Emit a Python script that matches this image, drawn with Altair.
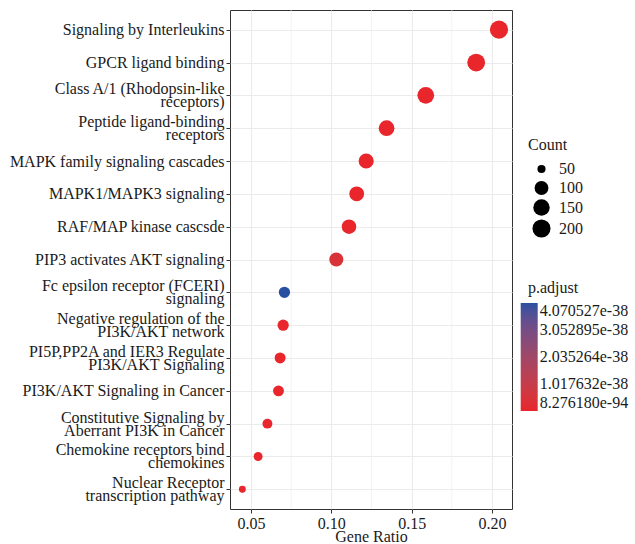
import altair as alt
import pandas as pd

pathways = [
    "Signaling by Interleukins",
    "GPCR ligand binding",
    "Class A/1 (Rhodopsin-like\nreceptors)",
    "Peptide ligand-binding\nreceptors",
    "MAPK family signaling cascades",
    "MAPK1/MAPK3 signaling",
    "RAF/MAP kinase cascsde",
    "PIP3 activates AKT signaling",
    "Fc epsilon receptor (FCERI)\nsignaling",
    "Negative regulation of the\nPI3K/AKT network",
    "PI5P,PP2A and IER3 Regulate\nPI3K/AKT Signaling",
    "PI3K/AKT Signaling in Cancer",
    "Constitutive Signaling by\nAberrant PI3K in Cancer",
    "Chemokine receptors bind\nchemokines",
    "Nuclear Receptor\ntranscription pathway",
]
gene_ratio = [0.2044, 0.1902, 0.1588, 0.1344, 0.1217, 0.1158, 0.1110, 0.1031,
              0.0708, 0.0700, 0.0681, 0.0671, 0.0602, 0.0544, 0.0446]
counts = [204, 190, 159, 134, 122, 116, 111, 103, 71, 70, 68, 67, 60, 54, 45]
p_adjust = [8.276180e-94, 3.1e-80, 2.2e-70, 5.4e-62, 1.3e-55, 4.6e-52, 2.9e-50, 4.5e-39,
            4.070527e-38, 6.1e-45, 3.3e-44, 8.8e-46, 1.5e-44, 7.2e-48, 2.4e-41]

x_major = [0.05, 0.10, 0.15, 0.20]
x_minor = [0.075, 0.125, 0.175]
count_breaks = [50, 100, 150, 200]
p_breaks = [8.276180e-94, 1.017632e-38, 2.035264e-38, 3.052895e-38, 4.070527e-38]

df = pd.DataFrame({
    "Description": pathways,
    "GeneRatio": gene_ratio,
    "Count": counts,
    "padj": p_adjust,
})
minor_df = pd.DataFrame({"m": x_minor})
title_df = pd.DataFrame({"t": ["p.adjust"]})

FONT = "Liberation Serif"
xscale = alt.Scale(domain=[0.0369, 0.2125], nice=False, zero=False)

minor = alt.Chart(minor_df).mark_rule(color="#EBEBEB", strokeWidth=0.6).encode(
    x=alt.X("m:Q", scale=xscale)
)

multi_test = "indexof(datum.value, '\\n') >= 0"

points = alt.Chart(df).mark_circle(opacity=1).encode(
    x=alt.X("GeneRatio:Q", scale=xscale, title="Gene Ratio",
            axis=alt.Axis(values=x_major, format=".2f", grid=True)),
    y=alt.Y("Description:N", sort=pathways, title=None,
            scale=alt.Scale(padding=0.6),
            axis=alt.Axis(labelExpr="split(datum.label, '\\n')", labelLimit=400,
                          labelLineHeight=13, grid=True,
                          labelOffset={"condition": {"test": multi_test, "value": -6.5},
                                       "value": 0})),
    size=alt.Size("Count:Q",
                  scale=alt.Scale(type="pow", exponent=0.1, zero=False,
                                  domain=[45, 204], range=[47.8, 330]),
                  legend=alt.Legend(title="Count", values=count_breaks, orient="none",
                                    legendX=298, legendY=127, symbolFillColor="black",
                                    symbolStrokeWidth=0, symbolType="circle",
                                    symbolOffset=4, labelOffset=8, rowPadding=3,
                                    titlePadding=8)),
    color=alt.Color("padj:Q",
                    scale=alt.Scale(domain=[8.276180e-94, 4.070527e-38],
                                    range=["#E8262B", "#2A50A2"], interpolate="lab"),
                    legend=alt.Legend(title=None, values=p_breaks,
                                      labelExpr="format(datum.value, '.6e')",
                                      orient="none", legendX=290.7, legendY=293,
                                      gradientLength=108, gradientThickness=17,
                                      gradientStrokeWidth=0, labelOffset=2,
                                      labelOverlap=False)),
)

ptitle = alt.Chart(title_df).mark_text(
    font=FONT, fontSize=16, color="#1a1a1a", align="left", baseline="middle"
).encode(x=alt.value(298), y=alt.value(278), text="t:N")

chart = (minor + points + ptitle).properties(
    width=282, height=499,
    autosize=alt.AutoSizeParams(type="none"),
    padding={"left": 230, "top": 10, "right": 123, "bottom": 35},
    background="white",
).configure_view(
    stroke="#333333", strokeWidth=1
).configure_axis(
    labelFont=FONT, titleFont=FONT, labelFontSize=16, titleFontSize=16,
    labelColor="#1a1a1a", titleColor="#1a1a1a", titleFontWeight="normal",
    gridColor="#EBEBEB", gridWidth=1.1, domain=False,
    tickColor="#333333", tickSize=4, tickWidth=1, labelPadding=2,
).configure_axisX(
    titlePadding=-3,
).configure_legend(
    titleFont=FONT, labelFont=FONT, titleFontSize=16, labelFontSize=16,
    titleColor="#1a1a1a", labelColor="#1a1a1a", titleFontWeight="normal", padding=0,
)

chart.save("out.html", embed_options={"renderer": "svg", "actions": False})
